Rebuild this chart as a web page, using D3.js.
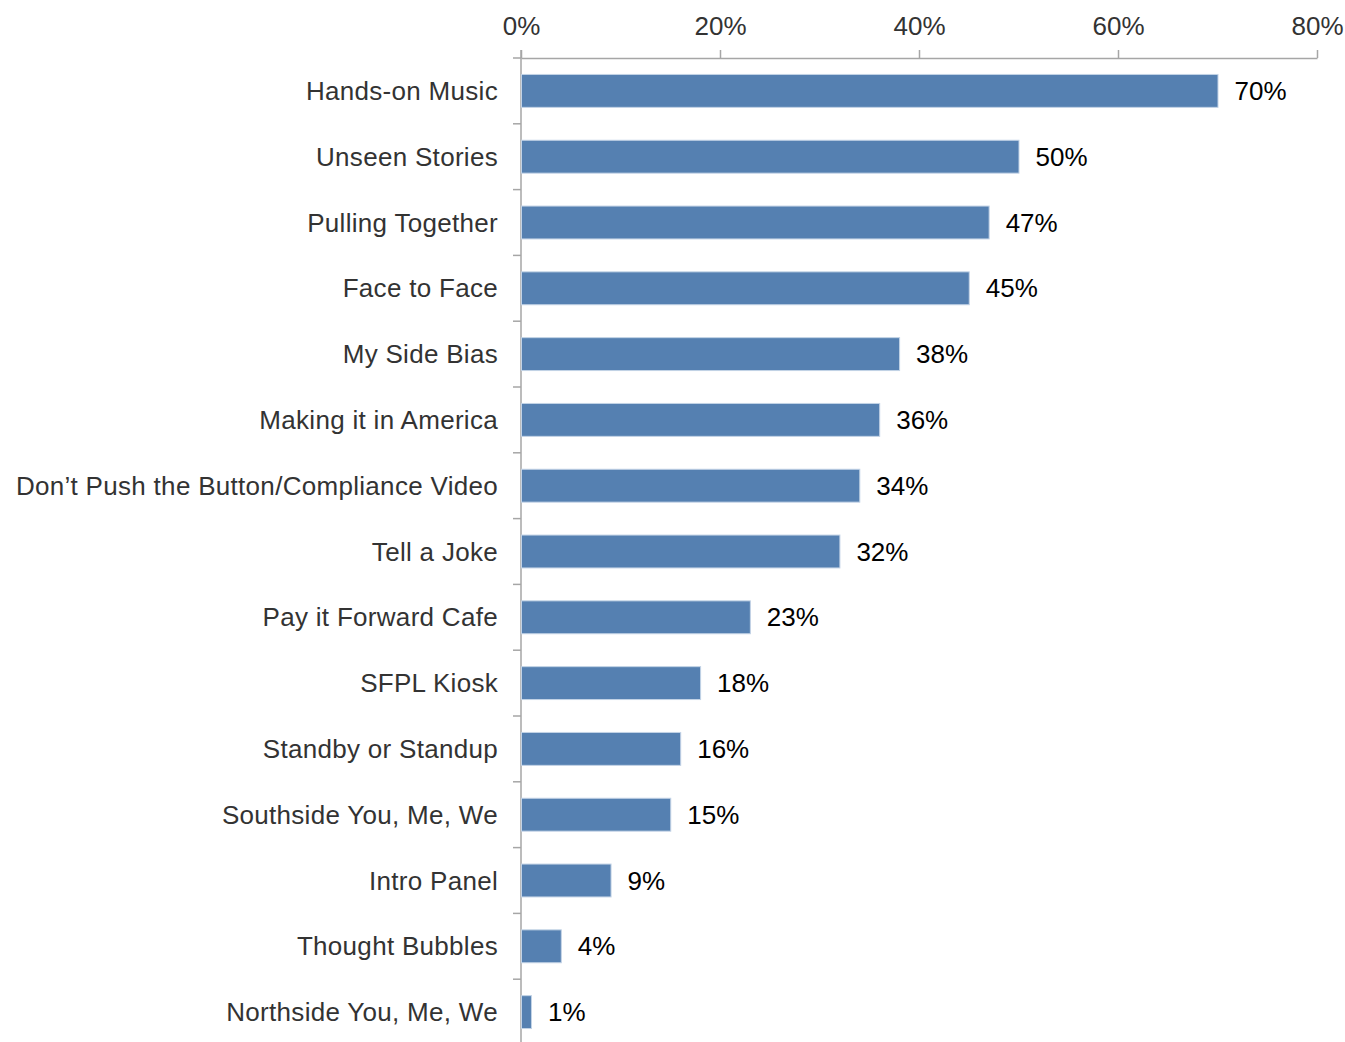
<!DOCTYPE html>
<html>
<head>
<meta charset="utf-8">
<script src="https://cdn.jsdelivr.net/npm/d3@7"></script>
<style>
  html, body { margin: 0; padding: 0; background: #fff; }
  svg { display: block; font-family: "Liberation Sans", Arial, sans-serif; }
</style>
</head>
<body>
<svg id="chart" width="1345" height="1042"></svg>
<script>
// Share of respondents per exhibit
const categories = [
  "Hands-on Music",
  "Unseen Stories",
  "Pulling Together",
  "Face to Face",
  "My Side Bias",
  "Making it in America",
  "Don\u2019t Push the Button/Compliance Video",
  "Tell a Joke",
  "Pay it Forward Cafe",
  "SFPL Kiosk",
  "Standby or Standup",
  "Southside You, Me, We",
  "Intro Panel",
  "Thought Bubbles",
  "Northside You, Me, We"
];
const values = [70, 50, 47, 45, 38, 36, 34, 32, 23, 18, 16, 15, 9, 4, 1];
const xTicks = [0, 20, 40, 60, 80];

const svg = d3.select("#chart");
const plotLeft = 521, plotRight = 1317, plotTop = 58, plotBottom = 1045;

const x = d3.scaleLinear().domain([0, 80]).range([plotLeft, plotRight]);
const y = d3.scaleBand().domain(categories).range([plotTop, plotBottom])
  .paddingInner(0.5).paddingOuter(0.25);

const axisColor = "#a6a6a6";
const fontSize = "26px";

// Top value axis
const xAxis = d3.axisTop(x).tickValues(xTicks)
  .tickFormat(d => d + "%").tickSize(8).tickSizeOuter(0).tickPadding(15);
const gx = svg.append("g").attr("transform", `translate(0,${plotTop})`).call(xAxis);
gx.select(".domain").attr("stroke", axisColor).attr("stroke-width", 1.5);
gx.selectAll(".tick line").attr("stroke", axisColor).attr("stroke-width", 1.5);
gx.selectAll(".tick text").attr("fill", "#333").style("font-size", fontSize)
  .style("font-family", "Liberation Sans, Arial, sans-serif");

// Category axis line with separators between rows
const step = y.step();
const boundaries = d3.range(categories.length + 1).map(i => plotTop + i * step);
svg.append("line")
  .attr("x1", plotLeft).attr("x2", plotLeft).attr("y1", plotTop - 8).attr("y2", 1042)
  .attr("stroke", axisColor).attr("stroke-width", 1.5);
svg.append("g").selectAll("line").data(boundaries).join("line")
  .attr("x1", plotLeft - 8).attr("x2", plotLeft)
  .attr("y1", d => d).attr("y2", d => d)
  .attr("stroke", axisColor).attr("stroke-width", 1.5);

// Bars
svg.append("g").selectAll("rect").data(categories).join("rect")
  .attr("x", x(0) + 0.5)
  .attr("y", d => y(d))
  .attr("width", (d, i) => x(values[i]) - x(0))
  .attr("height", y.bandwidth())
  .attr("fill", "#5580b1")
  .attr("stroke", "#c3d3e6")
  .attr("stroke-width", 1);

// Category labels
svg.append("g").selectAll("text").data(categories).join("text")
  .attr("x", plotLeft - 23)
  .attr("y", d => y(d) + y.bandwidth() / 2)
  .attr("dy", "0.35em")
  .attr("text-anchor", "end")
  .attr("fill", "#333")
  .style("font-size", fontSize)
  .style("letter-spacing", "0.3px")
  .text(d => d);

// Value labels
svg.append("g").selectAll("text").data(categories).join("text")
  .attr("x", (d, i) => x(values[i]) + 17)
  .attr("y", d => y(d) + y.bandwidth() / 2)
  .attr("dy", "0.35em")
  .attr("fill", "#000")
  .style("font-size", fontSize)
  .text((d, i) => values[i] + "%");
</script>
</body>
</html>
